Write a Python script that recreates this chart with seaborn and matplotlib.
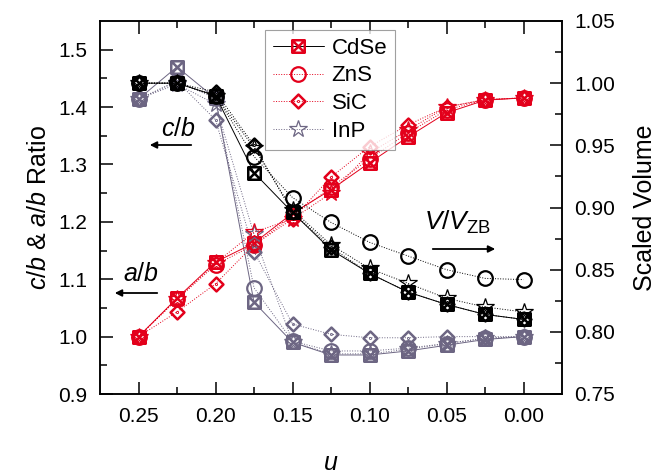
import numpy as np
import matplotlib
matplotlib.use("Agg")
import matplotlib.pyplot as plt
from matplotlib.path import Path
from matplotlib.lines import Line2D
import seaborn as sns

# data
u = [0.25, 0.225, 0.20, 0.175, 0.15, 0.125, 0.10, 0.075, 0.05, 0.025, 0.0]
materials = ["CdSe", "ZnS", "SiC", "InP"]

cb = {
    "CdSe": [1.414, 1.470, 1.415, 1.060, 0.990, 0.968, 0.968, 0.975, 0.985, 0.995, 1.000],
    "ZnS":  [1.414, 1.445, 1.415, 1.085, 0.992, 0.975, 0.975, 0.980, 0.988, 0.997, 1.000],
    "SiC":  [1.414, 1.445, 1.378, 1.148, 1.022, 1.004, 0.998, 0.998, 1.000, 1.000, 1.000],
    "InP":  [1.414, 1.440, 1.405, 1.178, 0.990, 0.970, 0.970, 0.978, 0.988, 0.997, 1.000],
}
ab = {
    "CdSe": [1.000, 1.067, 1.130, 1.163, 1.215, 1.256, 1.303, 1.348, 1.390, 1.412, 1.416],
    "ZnS":  [1.000, 1.065, 1.125, 1.160, 1.210, 1.260, 1.310, 1.355, 1.395, 1.413, 1.416],
    "SiC":  [1.000, 1.043, 1.092, 1.160, 1.205, 1.278, 1.331, 1.369, 1.400, 1.413, 1.416],
    "InP":  [1.000, 1.065, 1.128, 1.182, 1.205, 1.250, 1.320, 1.360, 1.400, 1.413, 1.416],
}
vol = {
    "CdSe": [1.000, 1.000, 0.990, 0.928, 0.896, 0.866, 0.847, 0.832, 0.822, 0.814, 0.810],
    "ZnS":  [1.000, 1.000, 0.990, 0.941, 0.908, 0.888, 0.872, 0.861, 0.850, 0.843, 0.842],
    "SiC":  [1.000, 1.000, 0.993, 0.950, 0.896, 0.868, 0.847, 0.832, 0.822, 0.814, 0.810],
    "InP":  [1.000, 1.000, 0.990, 0.948, 0.898, 0.870, 0.851, 0.839, 0.827, 0.820, 0.816],
}

RED = "#e3001b"
GRAY = "#6d6683"
BLACK = "black"

sns.set_style("ticks")
plt.rcParams["font.family"] = ["Liberation Sans", "DejaVu Sans"]
plt.rcParams["mathtext.fontset"] = "custom"
plt.rcParams["mathtext.rm"] = "Liberation Sans"
plt.rcParams["mathtext.it"] = "Liberation Sans:italic"
for key in ["text.color", "axes.labelcolor", "xtick.color", "ytick.color", "axes.edgecolor"]:
    plt.rcParams[key] = "black"

# square with a cross, diamond with a dot
M, L, C = Path.MOVETO, Path.LINETO, Path.CLOSEPOLY
boxx = Path([(-1, -1), (1, -1), (1, 1), (-1, 1), (-1, -1),
             (-1, -1), (1, 1), (-1, 1), (1, -1)],
            [M, L, L, L, C, M, L, M, L])
d = 0.06
dia_dot = Path([(0, -1.3), (1.3, 0), (0, 1.3), (-1.3, 0), (0, -1.3),
                (0, -d), (d, 0), (0, d), (-d, 0), (0, -d)],
               [M, L, L, L, C, M, L, L, L, C])

style = {
    "CdSe": dict(marker=boxx, ls="-", ms=9),
    "ZnS": dict(marker="o", ls=":", ms=10.5),
    "SiC": dict(marker=dia_dot, ls=":", ms=10),
    "InP": dict(marker="*", ls=":", ms=13),
}
mew = {"CdSe": 1.8, "ZnS": 1.6, "SiC": 1.8, "InP": 0.9}

fig = plt.figure(figsize=(6.72, 4.76), dpi=100)
ax = fig.add_axes([100 / 672, 82 / 476, 462 / 672, 373 / 476])
ax2 = ax.twinx()

for m in materials:
    st = style[m]
    for data, color, axis in [(cb, GRAY, ax), (ab, RED, ax), (vol, BLACK, ax2)]:
        sns.lineplot(x=u, y=data[m], ax=axis, color=color, lw=0.7,
                     linestyle=st["ls"], marker=st["marker"], markersize=st["ms"],
                     markerfacecolor="none", markeredgecolor=color,
                     markeredgewidth=mew[m], legend=False, sort=False)

ax.set_xlim(0.275, -0.025)
ax.set_ylim(0.9, 1.55)
ax2.set_ylim(0.75, 1.05)
ax.set_xticks([0.25, 0.20, 0.15, 0.10, 0.05, 0.00])
ax.set_xticks(np.arange(0.0, 0.26, 0.025), minor=True)
ax.set_yticks(np.arange(0.9, 1.51, 0.1))
ax.set_yticks(np.arange(0.9, 1.55, 0.05), minor=True)
ax2.set_yticks(np.arange(0.75, 1.051, 0.05))
ax2.set_yticks(np.arange(0.75, 1.05, 0.025), minor=True)
ax.xaxis.set_major_formatter(matplotlib.ticker.FormatStrFormatter("%.2f"))
ax.yaxis.set_major_formatter(matplotlib.ticker.FormatStrFormatter("%.1f"))
ax2.yaxis.set_major_formatter(matplotlib.ticker.FormatStrFormatter("%.2f"))

ax.tick_params(which="both", direction="in", top=True, right=False, width=1.1,
               labelsize=15, pad=9)
ax.tick_params(which="major", length=9)
ax.tick_params(which="minor", length=5)
ax2.tick_params(which="both", direction="in", width=1.1, labelsize=15, pad=9)
ax2.tick_params(which="major", length=9)
ax2.tick_params(which="minor", length=5)
for a in (ax, ax2):
    for s in a.spines.values():
        s.set_linewidth(1.1)
        s.set_color("black")

ax.set_xlabel("$u$", fontsize=18, labelpad=18)
ax.set_ylabel("$c/b$ & $a/b$ Ratio", fontsize=18, labelpad=5)
ax2.set_ylabel("Scaled Volume", fontsize=18, labelpad=13)

# annotations with arrows
def fp(x, y):
    return (x / 672, 1 - y / 476)

ax.annotate("", xy=fp(147, 145), xytext=fp(194, 145), xycoords="figure fraction",
            textcoords="figure fraction",
            arrowprops=dict(arrowstyle="-|>", color="k", lw=1.3, mutation_scale=10))
fig.text(*fp(178, 129), "$c/b$", fontsize=18, ha="center", va="center")
ax.annotate("", xy=fp(112, 293), xytext=fp(160, 293), xycoords="figure fraction",
            textcoords="figure fraction",
            arrowprops=dict(arrowstyle="-|>", color="k", lw=1.3, mutation_scale=10))
fig.text(*fp(141, 274), "$a/b$", fontsize=18, ha="center", va="center")
ax.annotate("", xy=fp(498, 249), xytext=fp(430, 249), xycoords="figure fraction",
            textcoords="figure fraction",
            arrowprops=dict(arrowstyle="-|>", color="k", lw=1.3, mutation_scale=10))
fig.text(*fp(458, 222), r"$V/V_{\mathrm{ZB}}$", fontsize=19, ha="center", va="center")

handles = [
    Line2D([], [], color=BLACK, lw=0.7, ls="-", marker=boxx, ms=9, mfc="none",
           mec=RED, mew=1.8),
    Line2D([], [], color=RED, lw=0.7, ls=":", marker="o", ms=10.5, mfc="none",
           mec=RED, mew=1.6),
    Line2D([], [], color=RED, lw=0.7, ls=":", marker=dia_dot, ms=10, mfc="none",
           mec=RED, mew=1.8),
    Line2D([], [], color=GRAY, lw=0.7, ls=":", marker="*", ms=13, mfc="none",
           mec=GRAY, mew=0.9),
]
leg = ax2.legend(handles, materials, loc="upper left", bbox_to_anchor=fp(265, 30),
                 bbox_transform=fig.transFigure, borderaxespad=0, fontsize=16,
                 frameon=True, fancybox=False, edgecolor="#888888",
                 handlelength=2.3, labelspacing=0.3, handletextpad=0.35,
                 borderpad=0.35)
leg.get_frame().set_linewidth(0.8)

fig.savefig("out.png", dpi=100)
